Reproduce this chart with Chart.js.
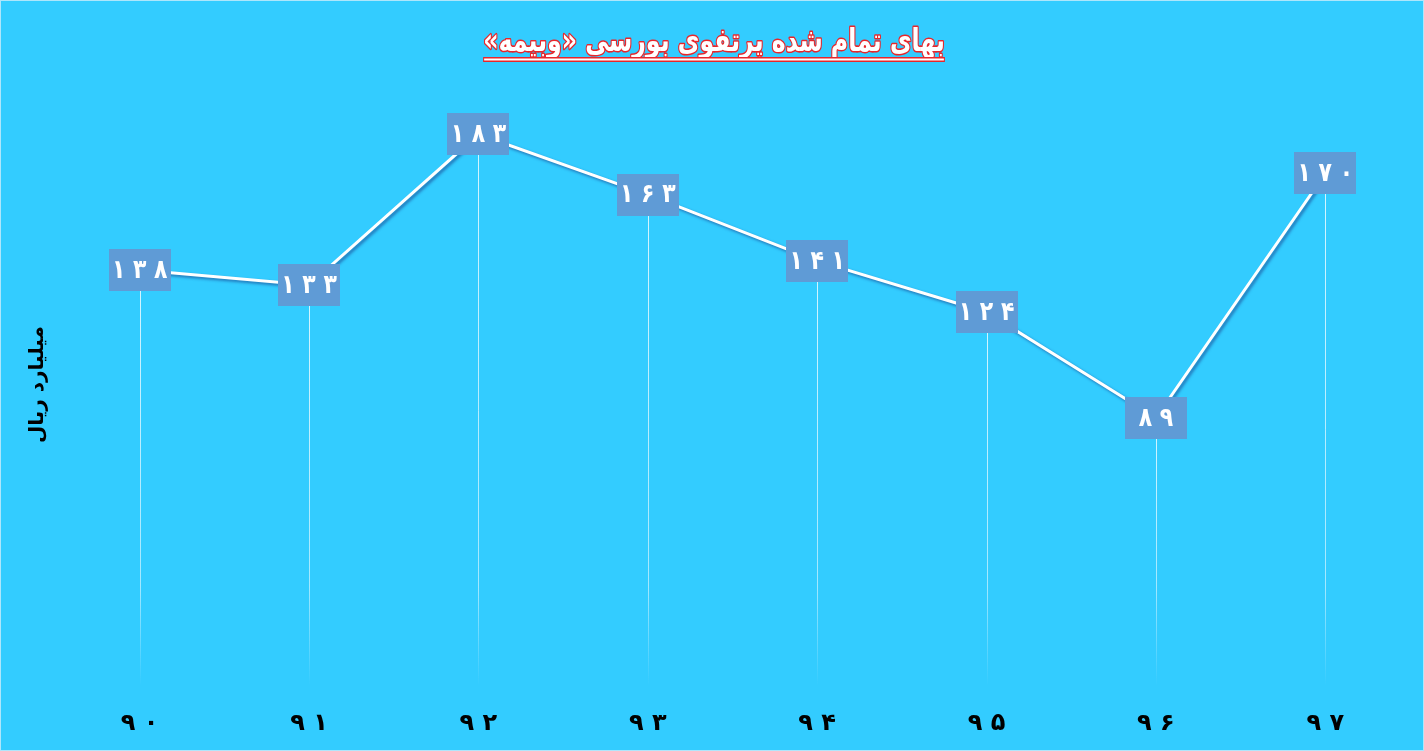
<!DOCTYPE html>
<html>
<head>
<meta charset="utf-8">
<script src="https://cdn.jsdelivr.net/npm/chart.js@4.4.1/dist/chart.umd.min.js"></script>
<style>
html,body{margin:0;padding:0;background:#33CCFF;}
#wrap{width:1424px;height:751px;position:relative;box-sizing:border-box;}
#frame{position:absolute;left:0;top:0;width:1424px;height:751px;box-sizing:border-box;border:1px solid rgba(205,236,250,0.8);pointer-events:none;}
canvas{display:block;}
</style>
</head>
<body>
<div id="wrap"><canvas id="c" width="1424" height="751"></canvas><div id="frame"></div></div>
<script>
const chartTitle = 'بهای تمام شده پرتفوی بورسی «وبیمه»';
const yAxisTitle = 'میلیارد ریال';
const categories = ['۹ ۰', '۹ ۱', '۹ ۲', '۹ ۳', '۹ ۴', '۹ ۵', '۹ ۶', '۹ ۷'];
const values = [138, 133, 183, 163, 141, 124, 89, 170];
const yMin = 0;
const yMax = 200;

const faDigits = ['۰','۱','۲','۳','۴','۵','۶','۷','۸','۹'];
function toFa(n){ return String(n).split('').map(d => faDigits[+d]).join(' '); }

const FONT = "'DejaVu Sans', sans-serif";

const dropLines = {
  id: 'dropLines',
  beforeDatasetsDraw(chart){
    const ctx = chart.ctx, meta = chart.getDatasetMeta(0), area = chart.chartArea;
    ctx.save();
    meta.data.forEach(pt => {
      const g = ctx.createLinearGradient(0, pt.y, 0, area.bottom);
      const fadeStart = Math.max(0, Math.min(1, (area.bottom - 100 - pt.y) / (area.bottom - pt.y)));
      g.addColorStop(0, 'rgba(255,255,255,0.8)');
      g.addColorStop(fadeStart, 'rgba(255,255,255,0.55)');
      g.addColorStop(1, 'rgba(255,255,255,0)');
      ctx.strokeStyle = g;
      ctx.lineWidth = 1;
      ctx.beginPath();
      ctx.moveTo(Math.round(pt.x) + 0.5, pt.y);
      ctx.lineTo(Math.round(pt.x) + 0.5, area.bottom);
      ctx.stroke();
    });
    ctx.restore();
  }
};

const lineShadow = {
  id: 'lineShadow',
  beforeDatasetDraw(chart){
    const ctx = chart.ctx;
    ctx.save();
    ctx.shadowColor = 'rgba(20,40,120,0.55)';
    ctx.shadowBlur = 3;
    ctx.shadowOffsetX = 2;
    ctx.shadowOffsetY = 2;
  },
  afterDatasetDraw(chart){ chart.ctx.restore(); }
};

const valueBoxes = {
  id: 'valueBoxes',
  afterDatasetsDraw(chart){
    const ctx = chart.ctx, meta = chart.getDatasetMeta(0);
    ctx.save();
    meta.data.forEach((pt, i) => {
      const w = 62, h = 42;
      ctx.fillStyle = '#5F9BD6';
      ctx.fillRect(Math.round(pt.x - w/2), Math.round(pt.y - h/2), w, h);
      ctx.save();
      ctx.translate(pt.x, pt.y + 1);
      ctx.scale(1, 1.2);
      ctx.fillStyle = '#FFFFFF';
      ctx.font = 'bold 22px ' + FONT;
      ctx.textAlign = 'center';
      ctx.textBaseline = 'middle';
      ctx.fillText(toFa(values[i]), 0, 0);
      ctx.restore();
    });
    ctx.restore();
  }
};

const titlePlugin = {
  id: 'fancyTitle',
  afterDraw(chart){
    const ctx = chart.ctx;
    ctx.save();
    const cx = chart.width / 2 + 2;
    let size = 32;
    ctx.font = 'bold ' + size + 'px ' + FONT;
    let tw = ctx.measureText(chartTitle).width;
    size = size * 462 / tw;
    ctx.font = 'bold ' + size + 'px ' + FONT;
    tw = ctx.measureText(chartTitle).width;
    ctx.save();
    ctx.translate(cx, 51);
    ctx.scale(1, 1.35);
    ctx.textAlign = 'center';
    ctx.textBaseline = 'alphabetic';
    ctx.direction = 'rtl';
    ctx.lineJoin = 'round';
    ctx.lineWidth = 2.2;
    ctx.strokeStyle = '#E8262B';
    ctx.strokeText(chartTitle, 0, 0);
    ctx.fillStyle = '#FFFFFF';
    ctx.fillText(chartTitle, 0, 0);
    ctx.restore();
    // underline
    ctx.fillStyle = '#E8262B';
    ctx.fillRect(cx - tw/2, 57, tw, 5);
    ctx.fillStyle = '#FFFFFF';
    ctx.fillRect(cx - tw/2 + 1, 58.5, tw - 2, 2);
    ctx.restore();
  }
};

new Chart(document.getElementById('c'), {
  type: 'line',
  data: {
    labels: categories,
    datasets: [{
      data: values,
      borderColor: '#FFFFFF',
      borderWidth: 3,
      pointRadius: 0,
      pointHoverRadius: 0,
      tension: 0,
      fill: false
    }]
  },
  options: {
    responsive: false,
    animation: false,
    events: [],
    layout: { padding: { left: 20, right: 14, top: 83, bottom: -10 } },
    plugins: { legend: { display: false }, title: { display: false }, tooltip: { enabled: false } },
    scales: {
      x: {
        offset: true,
        grid: { display: false, drawTicks: false },
        border: { display: false },
        ticks: { color: '#000000', font: { family: FONT, size: 24, weight: 'bold' }, padding: 23, maxRotation: 0 }
      },
      y: {
        min: yMin,
        max: yMax,
        grid: { display: false, drawTicks: false },
        border: { display: false },
        ticks: { display: false },
        title: {
          display: true,
          text: yAxisTitle,
          color: '#000000',
          font: { family: FONT, size: 20, weight: 'bold' },
          padding: { top: 6, bottom: 5 }
        }
      }
    }
  },
  plugins: [dropLines, lineShadow, valueBoxes, titlePlugin]
});
</script>
</body>
</html>
